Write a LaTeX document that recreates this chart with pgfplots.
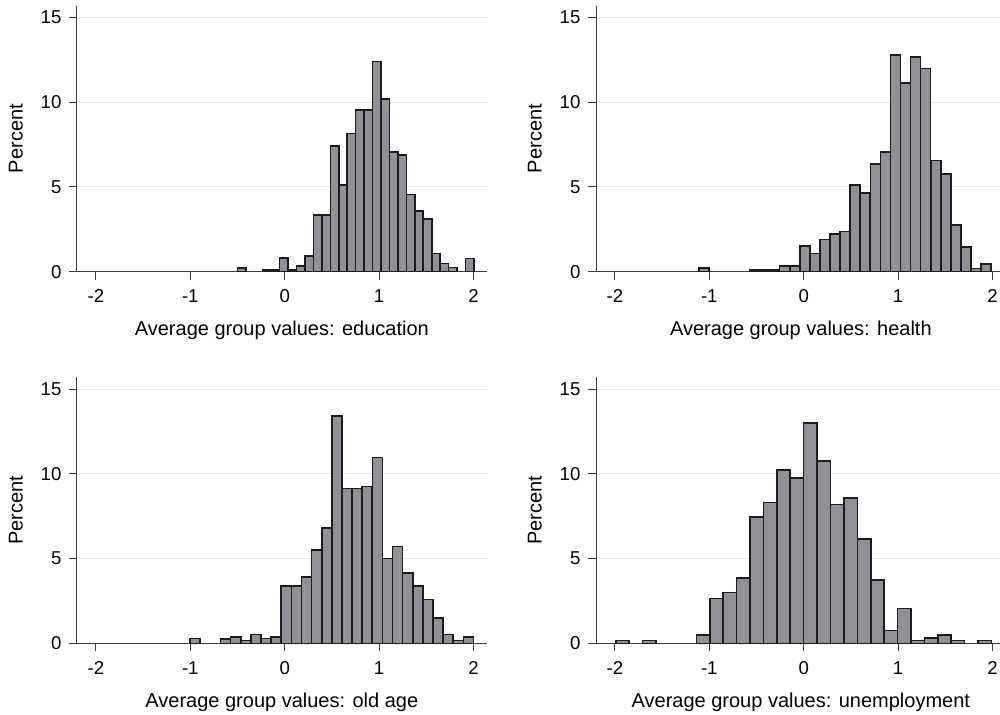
\documentclass[border=0pt]{standalone}
\usepackage{pgfplots}
\pgfplotsset{compat=1.18}
\usepackage{fontspec}
\setmainfont{Liberation Sans}
\definecolor{barfill}{RGB}{143,145,150}
\definecolor{baredge}{RGB}{28,28,28}
\definecolor{axisgray}{RGB}{60,60,60}
\definecolor{gridgray}{RGB}{232,232,232}
\newcommand{\lab}{\fontsize{9.3}{11}\selectfont}
\pgfplotsset{
  hist/.style={
    scale only axis, width=204.85pt, height=133.05pt,
    xmin=-2.2, xmax=2.14, ymin=0, ymax=15.7,
    axis x line*=bottom, axis y line*=left,
    xtick={-2,-1,0,1,2}, ytick={0,5,10,15},
    tick align=outside, major tick length=4pt,
    ymajorgrids, grid style={draw=gridgray, line width=0.5pt},
    axis line style={draw=axisgray, line width=0.5pt},
    every tick/.style={draw=axisgray, line width=0.5pt},
    tick label style={font=\lab, text=black},
    /pgf/number format/assume math mode=true,
    xticklabel style={anchor=base, inner sep=0pt, yshift=-11.5pt},
    yticklabel style={anchor=east, inner sep=0pt, xshift=-3.6pt},
    label style={font=\lab, text=black},
    ylabel={Percent},
    every axis y label/.style={at={(axis description cs:-0.133,0.5)}, rotate=90, anchor=base},
    every axis x label/.style={at={(axis description cs:0.5,-0.2405)}, anchor=base},
  },
  bars/.style={ybar, bar width=#1, bar shift=0pt, fill=barfill, draw=baredge, line width=0.8pt},
}
\begin{document}
\begin{tikzpicture}[x=1pt,y=1pt]
% panel 1: education
\begin{axis}[hist, at={(38.5pt,221.15pt)}, anchor=south west,
  xlabel={Average group values: education}]
\addplot[bars=0.0895] coordinates {
(-0.456,0.22) (-0.188,0.1) (-0.098,0.1) (-0.009,0.8) (0.081,0.1) (0.170,0.35)
(0.260,0.92) (0.349,3.34) (0.439,3.34) (0.528,7.43) (0.618,5.11) (0.707,8.16)
(0.797,9.54) (0.886,9.54) (0.976,12.4) (1.065,10.19) (1.155,7.06) (1.244,6.90)
(1.334,4.56) (1.423,3.58) (1.513,3.12) (1.602,1.07) (1.692,0.49) (1.781,0.24)
(1.960,0.79)};
\end{axis}
% panel 2: health
\begin{axis}[hist, at={(298pt,221.15pt)}, anchor=south west,
  xlabel={Average group values: health}]
\addplot[bars=0.1067] coordinates {
(-1.055,0.22) (-0.521,0.1) (-0.415,0.1) (-0.308,0.1) (-0.201,0.33) (-0.095,0.33)
(0.012,1.53) (0.119,1.08) (0.226,1.91) (0.332,2.24) (0.439,2.38) (0.546,5.13)
(0.652,4.66) (0.759,6.35) (0.866,7.08) (0.972,12.80) (1.079,11.15) (1.186,12.68)
(1.292,11.98) (1.399,6.55) (1.506,5.76) (1.613,2.75) (1.719,1.44) (1.826,0.2)
(1.933,0.45)};
\end{axis}
% panel 3: old age
\begin{axis}[hist, at={(38.5pt,35.35pt)}, anchor=south west,
  xlabel={Average group values: old age}]
\addplot[bars=0.1072] coordinates {
(-0.948,0.28) (-0.626,0.26) (-0.519,0.39) (-0.412,0.16) (-0.305,0.51) (-0.198,0.28)
(-0.090,0.39) (0.017,3.37) (0.124,3.37) (0.231,3.93) (0.338,5.49) (0.446,6.81)
(0.553,13.40) (0.660,9.14) (0.767,9.14) (0.874,9.26) (0.982,10.97) (1.089,5.01)
(1.196,5.72) (1.303,4.16) (1.410,3.39) (1.518,2.59) (1.625,1.50) (1.732,0.53)
(1.839,0.16) (1.946,0.39)};
\end{axis}
% panel 4: unemployment
\begin{axis}[hist, at={(298pt,35.35pt)}, anchor=south west,
  xlabel={Average group values: unemployment}]
\addplot[bars=0.1421] coordinates {
(-1.919,0.16) (-1.635,0.16) (-1.066,0.49) (-0.924,2.64) (-0.782,3.0) (-0.640,3.85)
(-0.498,7.46) (-0.356,8.31) (-0.214,10.22) (-0.071,9.75) (0.071,13.0) (0.213,10.76)
(0.355,8.19) (0.497,8.57) (0.639,6.16) (0.781,3.75) (0.923,0.75) (1.065,2.05)
(1.207,0.16) (1.350,0.30) (1.492,0.49) (1.634,0.16) (1.918,0.16)};
\end{axis}
\pgfresetboundingbox
\useasboundingbox (0,0) rectangle (500pt,357pt);
\end{tikzpicture}
\end{document}
